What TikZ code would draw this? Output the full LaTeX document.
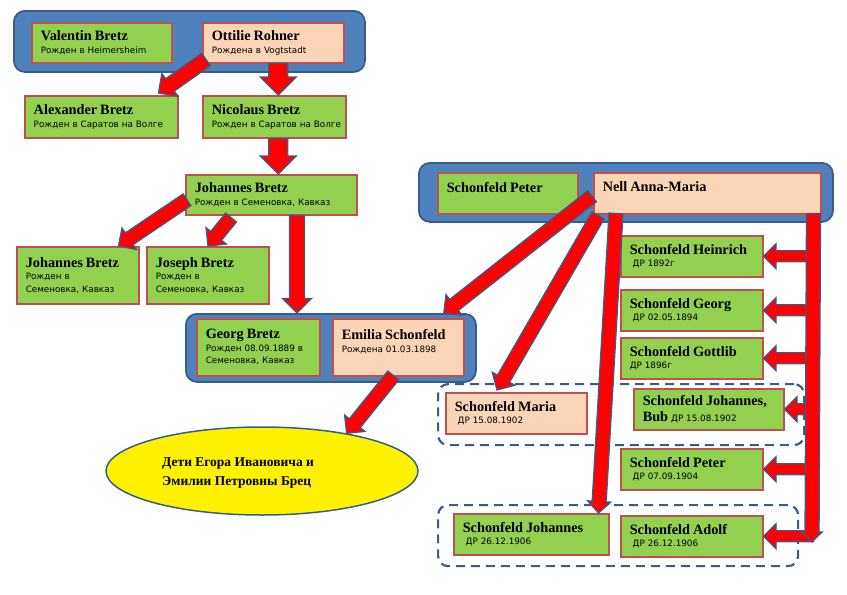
\documentclass[tikz,border=0pt]{standalone}
\usepackage{fontspec}
\setmainfont{Liberation Serif}
\newfontfamily\sansfam{DejaVu Sans}
\usetikzlibrary{calc,shapes.geometric}

\definecolor{leaf}{HTML}{92D050}
\definecolor{peach}{HTML}{FBD5B5}
\definecolor{brick}{HTML}{C0504D}
\definecolor{steel}{HTML}{4F81BD}
\definecolor{navy}{HTML}{385D8A}

\newcommand{\namefont}{\rmfamily\fontsize{14.3}{16}\selectfont\bfseries}
\newcommand{\subfont}{\sansfam\fontsize{8.8}{12.5}\selectfont}
\newcommand{\who}[2]{{\namefont #1}\\\mbox{}#2}

% block arrow: shaft half width, head half width, from, to
\newcommand{\barrow}[4]{%
  \path ($(#4)!#2!(#3)$) coordinate (bh);
  \filldraw[bigarrow] ($(#3)!#1!90:(#4)$) -- ($(bh)!#1!90:(#4)$) -- ($(bh)!#2!90:(#4)$) -- (#4)
    -- ($(bh)!#2!-90:(#4)$) -- ($(bh)!#1!-90:(#4)$) -- ($(#3)!#1!-90:(#4)$) -- cycle;}

\begin{document}
\begin{tikzpicture}[x=1pt,y=-1pt]
  \tikzstyle{man}=[draw=brick, line width=1.5pt, fill=leaf, anchor=north west, inner xsep=9pt, inner ysep=2pt, align=left, font=\subfont]
  \tikzstyle{wife}=[man, fill=peach]
  \tikzstyle{family}=[draw=navy, line width=1.8pt, fill=steel, rounded corners=11pt, anchor=north west, inner sep=0pt]
  \tikzstyle{kin}=[draw=navy, line width=2.2pt, dash pattern=on 9pt off 6pt, rounded corners=10pt, anchor=north west, inner sep=0pt]
  \tikzstyle{bigarrow}=[fill=red, draw=navy, line width=1.3pt]
  \useasboundingbox (0,0) rectangle (847,595);

  % families
  \node[family, minimum width=351pt, minimum height=61pt] (group1) at (13,10) {};
  \node[family, minimum width=290pt, minimum height=68pt] (group2) at (185,313) {};
  \node[family, minimum width=414pt, minimum height=59pt] (group3) at (418,162) {};
  \node[kin, minimum width=366pt, minimum height=61pt] (dash1) at (437,383) {};
  \node[kin, minimum width=360pt, minimum height=61pt] (dash2) at (437,504) {};

  % Bretz
  \node[man, minimum width=140pt, minimum height=40pt, text width=122pt] (valentin) at (31,22) {\who{Valentin Bretz}{Рожден в Heimersheim}};
  \node[wife, minimum width=141pt, minimum height=40pt, text width=123pt] (ottilie) at (202,22) {\who{Ottilie Rohner}{Рождена в Vogtstadt}};
  \node[man, minimum width=153pt, minimum height=42pt, text width=135pt] (alexander) at (24,95) {\who{Alexander Bretz}{Рожден в Саратов на Волге}};
  \node[man, minimum width=143pt, minimum height=42pt, text width=125pt] (nicolaus) at (202,95) {\who{Nicolaus Bretz}{\mbox{Рожден в Саратов на Волге}}};
  \node[man, minimum width=171pt, minimum height=40pt, text width=153pt] (jbmid) at (185,174) {\who{Johannes Bretz}{Рожден в Семеновка, Кавказ}};
  \node[man, minimum width=122pt, minimum height=57pt, text width=104pt] (jbleft) at (16,246) {\who{Johannes Bretz}{Рожден в\\Семеновка, Кавказ}};
  \node[man, minimum width=122pt, minimum height=57pt, text width=104pt] (joseph) at (146,246) {\who{Joseph Bretz}{Рожден в\\Семеновка, Кавказ}};
  \node[man, minimum width=123pt, minimum height=57pt, text width=105pt] (georg) at (196,318) {\who{Georg Bretz}{\mbox{Рожден 08.09.1889 в}\\Семеновка, Кавказ}};
  \node[wife, minimum width=131pt, minimum height=57pt, text width=113pt] (emilia) at (332,318) {\who{Emilia Schonfeld}{Рождена 01.03.1898\\\mbox{}}};

  % Schonfeld
  \node[man, minimum width=140pt, minimum height=41pt, text width=122pt] (speter) at (437,172) {\who{Schonfeld Peter}{}};
  \node[wife, minimum width=227pt, minimum height=41pt, text width=209pt] (nell) at (593,172) {\who{Nell Anna-Maria}{}};
  \node[man, minimum width=142pt, minimum height=41pt, text width=124pt] (heinrich) at (620,235) {\who{Schonfeld Heinrich}{~ДР 1892г}};
  \node[man, minimum width=142pt, minimum height=41pt, text width=124pt] (sgeorg) at (620,289) {\who{Schonfeld Georg}{~ДР 02.05.1894}};
  \node[man, minimum width=142pt, minimum height=41pt, text width=124pt] (gottlib) at (620,337) {\who{Schonfeld Gottlib}{ДР 1896г}};
  \node[wife, minimum width=141pt, minimum height=41pt, text width=123pt] (maria) at (445,392) {\who{Schonfeld Maria}{~ДР 15.08.1902}};
  \node[man, minimum width=150pt, minimum height=41pt, text width=132pt] (bub) at (633,388) {{\namefont Schonfeld Johannes,\\[3pt]Bub} ДР 15.08.1902};
  \node[man, minimum width=142pt, minimum height=41pt, text width=124pt] (speter2) at (620,448) {\who{Schonfeld Peter}{~ДР 07.09.1904}};
  \node[man, minimum width=155pt, minimum height=41pt, text width=137pt] (sjoh) at (453,513) {\who{Schonfeld Johannes}{~ДР 26.12.1906}};
  \node[man, minimum width=142pt, minimum height=41pt, text width=124pt] (adolf) at (620,515) {\who{Schonfeld Adolf}{~ДР 26.12.1906}};

  % children
  \node[ellipse, draw=navy, line width=1.5pt, fill=yellow, minimum width=312pt, minimum height=88pt, inner sep=0pt] (kids) at (262,471) {};
  \node[anchor=west, align=left, inner sep=0pt, font=\fontsize{13.5}{19}\selectfont\bfseries] (kidstext) at (162,473) {Дети Егора Ивановича и\\Эмилии Петровны Брец};

  % arrow ends
  \coordinate (ottilieL) at ($(ottilie.south west)+(4,-4)$);
  \coordinate (alexanderT) at ($(alexander.north east)+(-20,-2)$);
  \coordinate (ottilieB) at ($(ottilie.south)+(5,0)$);
  \coordinate (nicolausT) at ($(nicolaus.north)+(4,0)$);
  \coordinate (nicolausB) at ($(nicolaus.south)+(4,0)$);
  \coordinate (jbmidT) at ($(jbmid.north)+(7,0)$);
  \coordinate (jbmidL) at ($(jbmid.west)+(2,5)$);
  \coordinate (jbleftT) at ($(jbleft.north east)+(-21,0)$);
  \coordinate (jbmidB) at ($(jbmid.south west)+(46,2)$);
  \coordinate (josephT) at ($(joseph.north west)+(62,0)$);
  \coordinate (jbmidR) at ($(jbmid.south west)+(112,0)$);
  \coordinate (group2T) at ($(group2.north west)+(112,0)$);
  \coordinate (emiliaB) at ($(emilia.south)+(-5,-1)$);
  \coordinate (nellL) at ($(nell.west)+(-1,3)$);
  \coordinate (group2R) at ($(group2.north east)+(-33,0)$);
  \coordinate (nellB1) at ($(nell.south west)+(5,1)$);
  \coordinate (mariaT) at ($(maria.north west)+(52,-2)$);
  \coordinate (nellB2) at ($(nell.south west)+(23,-1)$);
  \coordinate (sjohT) at ($(sjoh.north east)+(-11,0)$);
  \coordinate (bartop) at ($(nell.south east)+(-8,-1)$);
  \coordinate (barend) at (812,542);

  \barrow{7.5pt}{14pt}{ottilieL}{alexanderT}
  \barrow{9.5pt}{18pt}{ottilieB}{nicolausT}
  \barrow{9.5pt}{18pt}{nicolausB}{jbmidT}
  \barrow{7pt}{13pt}{jbmidL}{jbleftT}
  \barrow{7pt}{13pt}{jbmidB}{josephT}
  \barrow{7.5pt}{14.5pt}{jbmidR}{group2T}
  \barrow{7pt}{13pt}{emiliaB}{kids.24}
  \barrow{7pt}{13pt}{nellL}{group2R}
  \barrow{7pt}{13pt}{nellB1}{mariaT}
  \barrow{7pt}{11.5pt}{nellB2}{sjohT}
  \foreach \k in {heinrich,sgeorg,gottlib,bub,speter2,adolf} {
    \coordinate (\k-bar) at (\k.east -| bartop);
    \barrow{5.5pt}{12.5pt}{\k-bar}{\k.east}
  }
  \barrow{7pt}{10pt}{bartop}{barend}
\end{tikzpicture}
\end{document}
